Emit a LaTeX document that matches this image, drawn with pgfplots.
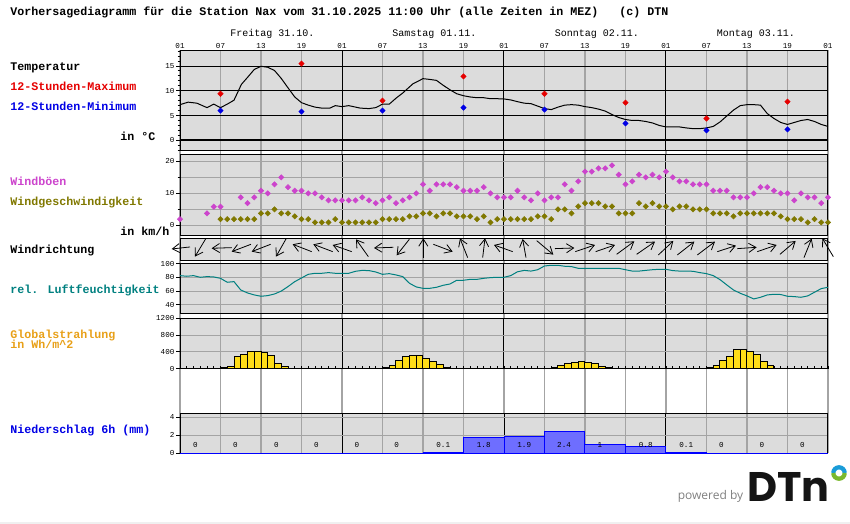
\documentclass[border=0pt]{standalone}
\usepackage{fontspec}
\usepackage{pgfplots}
\pgfplotsset{compat=1.18}
\usetikzlibrary{arrows.meta}
\setmainfont{Liberation Sans}
\newfontfamily\mono{Liberation Mono}
\newfontfamily\logo{Poppins}
\newfontfamily\pow{Open Sans}
\newcommand\lab[4]{\node[anchor=base west,inner sep=0pt,text=#4] at ({#1*0.75pt},{(524-#2)*0.75pt}) {\fontsize{8.75pt}{10pt}\selectfont\mono\bfseries #3};}
\newcommand\daylab[2]{\node[anchor=base west,inner sep=0pt] at ({#1*0.75pt},{(524-37)*0.75pt}) {\fontsize{7.5pt}{9pt}\selectfont\mono #2};}
\newcommand\rainlab[2]{\node[inner sep=0pt,font=\fontsize{5.7pt}{6pt}\selectfont\mono] at (axis cs:#1,.92) {#2};}
\definecolor{panel}{HTML}{DCDCDC}
\definecolor{gl}{HTML}{A4A4A4}
\definecolor{gust}{HTML}{CC44CC}
\definecolor{wind}{HTML}{807800}
\definecolor{hum}{HTML}{008080}
\definecolor{glob}{HTML}{E8A018}
\definecolor{sun}{HTML}{FFDD18}
\definecolor{rainf}{HTML}{6E6EFF}
\definecolor{ringb}{HTML}{1A9CD8}
\definecolor{ringg}{HTML}{7AB82E}
\pgfplotsset{
 tfont/.style={font=\fontsize{5.7pt}{6pt}\selectfont\mono},
 pan/.style={anchor=south west,scale only axis,width=486pt,xmin=0,xmax=96,
  axis background/.style={fill=panel},
  axis line style={line width=.75pt},
  xtick={6,12,18,30,36,42,54,60,66,78,84,90},minor xtick={24,48,72},
  xticklabels={},xmajorgrids,xminorgrids,
  major x grid style={draw=gl,line width=.8pt},
  minor x grid style={draw=black,line width=.75pt},
  major y grid style={draw=gl,line width=.8pt},
  xtick style={draw=none},
  ytick pos=left,tick align=outside,
  ytick style={draw=black,line width=.75pt},
  major tick length=3pt,minor tick length=1.8pt,
  tick label style={tfont},
  /pgf/number format/assume math mode=true,
  /pgf/number format/1000 sep={},
  yticklabel style={inner sep=1pt},
 },
 mk/.style={only marks,mark=square*,mark size=1.4pt,mark options={rotate=45,draw=#1,fill=#1},color=#1},
 ln/.style={line width=.75pt,no marks,color=#1},
}
\begin{document}
\begin{tikzpicture}
\useasboundingbox (0,0) rectangle (637.5pt,393pt);
\fill[color=black!6] (0,0) rectangle (637.5pt,1.5pt);

% vertical lines through all panels and gaps, with the hour labels
\begin{axis}[anchor=south west,at={(135pt,53.025pt)},scale only axis,width=486pt,height=302.25pt,
 xmin=0,xmax=96,ymin=0,ymax=1,ytick=\empty,axis line style={draw=none},
 xtick={0,6,...,96},xticklabels={01,07,13,19,01,07,13,19,01,07,13,19,01,07,13,19,01},
 minor xtick={0,24,48,72,96},
 xticklabel pos=upper,xtick style={draw=none},xmajorgrids,xminorgrids,
 major x grid style={draw=gl,line width=.8pt},minor x grid style={draw=black,line width=.75pt},
 tick label style={tfont},xticklabel style={inner sep=0pt,yshift=1pt},major tick length=2pt,minor tick length=0pt]
\end{axis}

% temperature
\begin{axis}[pan,at={(135pt,280.275pt)},height=75pt,ymin=-2.02,ymax=18.18,
 ytick={0,5,10,15},minor ytick={-2,-1,1,2,3,4,6,7,8,9,11,12,13,14,16,17,18},ymajorgrids,
 major y grid style={draw=black,line width=.75pt},clip=false]
\addplot[line width=1.6pt,black,no marks,forget plot] coordinates {(0,0)(96,0)};
\addplot[ln=black] coordinates {
(0,7.2)(1.2,7.7)(2.5,7.5)(4,6.6)(5,7.3)(6,6.6)(7,7.3)(8,8.1)(9.1,11.3)(10,12.7)(11,14.3)(12,14.95)(13,14.75)(14,14.1)(15,12.5)(16,10.6)(17,8.75)(18,7.6)(19,7.1)(20,6.7)(21,6.5)(22.2,6.5)(23,7.0)(24,6.8)(25,7.0)(26.7,6.5)(28,6.4)(29,6.6)(30,7.3)(31,7.3)(32,8.5)(33,9.55)(34.5,11.4)(36,12.45)
(37,12.3)(38,12.1)(39,11.1)(40,10.2)(41,9.4)(42,9.0)(43,8.75)(44,8.6)(45,8.6)(46,8.4)(47,8.4)(48,8.35)(49,8.15)(50,7.8)(51,7.5)(52,7.4)(53,6.9)(54,6.4)(55,6.2)(56,6.7)(57,7.1)(58,7.2)(59,7.1)(60,6.8)(61,6.6)(62,6.3)(63,5.9)(64,5.2)(65,4.6)(66,4.2)(67,4.0)(68,4.0)(69,3.8)(70,3.5)(71,3.0)(72,2.7)(73,2.7)(74,2.7)(75,2.5)(76,2.35)(77,2.35)(78,2.5)(79,2.8)(80,3.7)(81,4.9)(82,6.1)(83,7.0)(84,7.2)(85,7.2)(86,7.1)(87,5.4)(88,4.4)(89,3.6)(90,3.2)(91,3.6)(92,4.0)(93,4.2)(94,3.8)(95,3.2)(96,2.8)};
\addplot[mk=red!90!black] coordinates {(6,9.4)(18,15.5)(30,8.0)(42,12.9)(54,9.4)(66,7.6)(78,4.4)(90,7.8)};
\addplot[mk=blue!90!black] coordinates {(6,6.0)(18,5.8)(30,6.0)(42,6.6)(54,6.2)(66,3.4)(78,2.0)(90,2.2)};
\end{axis}

% wind
\begin{axis}[pan,at={(135pt,216.525pt)},height=60.225pt,ymin=-3.125,ymax=21.97,
 ytick={0,10,20},minor ytick={5,15},ymajorgrids,yminorgrids,minor y grid style={draw=gl,line width=.8pt},clip=false]
\addplot[mk=gust] coordinates {
(0,1.9)(4,3.75)(5,5.8)(6,5.8)(9,8.75)(10,6.9)(11,8.75)(12,10.8)(13,10)(14,12.8)(15,15)(16,11.9)(17,10.8)(18,10.8)(19,10)(20,10)(21,8.75)(22,7.8)(23,7.8)(24,7.8)(25,7.8)(26,7.8)(27,8.75)(28,7.8)(29,6.9)(30,7.8)(31,8.75)(32,6.9)(33,7.8)(34,8.75)(35,10)(36,12.8)(37,10.8)(38,12.8)(39,12.8)(40,12.8)(41,11.9)(42,10.8)(43,10.8)(44,10.8)(45,11.9)(46,10)(47,8.75)
(48,8.75)(49,8.75)(50,10.8)(51,8.75)(52,7.8)(53,10)(54,7.8)(55,8.75)(56,8.75)(57,12.8)(58,10.8)(59,13.75)(60,16.8)(61,16.8)(62,17.8)(63,17.8)(64,18.75)(65,15.8)(66,12.8)(67,13.75)(68,15.8)(69,15)(70,15.8)(71,15)(72,16.8)(73,15)(74,13.75)(75,13.75)(76,12.8)(77,12.8)(78,12.8)(79,10.8)(80,10.8)(81,10.8)(82,8.75)(83,8.75)(84,8.75)(85,10)(86,11.9)(87,11.9)(88,10.8)(89,10)(90,10)(91,7.8)(92,10)(93,8.75)(94,8.75)(95,6.9)(96,8.75)};
\addplot[mk=wind] coordinates {
(6,1.9)(7,1.9)(8,1.9)(9,1.9)(10,1.9)(11,1.9)(12,3.75)(13,3.75)(14,5)(15,3.75)(16,3.75)(17,2.8)(18,1.9)(19,1.9)(20,.9)(21,.9)(22,.9)(23,1.9)(24,.9)(25,.9)(26,.9)(27,.9)(28,.9)(29,.9)(30,1.9)(31,1.9)(32,1.9)(33,1.9)(34,2.8)(35,2.8)(36,3.75)(37,3.75)(38,2.8)(39,3.75)(40,3.75)(41,2.8)(42,2.8)(43,2.8)(44,1.9)(45,2.8)(46,.9)(47,1.9)
(48,1.9)(49,1.9)(50,1.9)(51,1.9)(52,1.9)(53,2.8)(54,2.8)(55,1.9)(56,5)(57,5)(58,3.75)(59,5.9)(60,6.9)(61,6.9)(62,6.9)(63,5.9)(64,5.9)(65,3.75)(66,3.75)(67,3.75)(68,6.9)(69,5.9)(70,6.9)(71,5.9)(72,5.9)(73,5)(74,5.9)(75,5.9)(76,5)(77,5)(78,5)(79,3.75)(80,3.75)(81,3.75)(82,2.8)(83,3.75)(84,3.75)(85,3.75)(86,3.75)(87,3.75)(88,3.75)(89,2.8)(90,1.9)(91,1.9)(92,1.9)(93,.9)(94,1.9)(95,.9)(96,.9)};
\end{axis}

% wind direction: tail and tip of each arrow, read off the picture (x: 30 + 20.25 per hour; y: 3 units per pixel)
\begin{axis}[pan,at={(135pt,197.775pt)},height=16.5pt,y dir=reverse,ymin=265,ymax=331,ytick=\empty,clip=false]
\addplot[black,no marks,line width=.6pt,
 quiver={u=(\thisrow{x1}-\thisrow{x0})/20.25,v=\thisrow{y1}-\thisrow{y0},
 every arrow/.append style={-{Straight Barb[length=5.4pt,width=6.8pt,line width=.6pt]}}}]
 table[x expr=(\thisrow{x0}-30)/20.25,y=y0] {
x0 y0 x1 y1
60 291 5 297
108 265 75 320
185 293 125 295
243 283 185 305
302 283 245 305
348 267 318 320
425 305 368 283
488 305 430 283
545 305 488 285
595 320 558 268
670 292 612 294
718 268 680 316
760 323 760 265
790 283 848 305
893 323 870 265
938 323 945 265
1028 305 972 285
1068 323 1058 267
1100 272 1150 314
1155 296 1213 294
1216 305 1275 285
1277 305 1335 285
1340 313 1393 274
1400 313 1455 275
1465 315 1510 273
1522 315 1573 275
1582 315 1635 275
1642 305 1698 287
1702 296 1760 292
1762 305 1820 285
1830 313 1877 273
1902 323 1925 266
1990 320 1957 265
};
\end{axis}

% humidity
\begin{axis}[pan,at={(135pt,157.725pt)},height=37.8pt,ymin=27.2,ymax=100.3,ytick={40,60,80,100},ymajorgrids]
\addplot[ln=hum] coordinates {
(0,82.4)(1,81.5)(2,82.4)(3,80)(4,81)(5,80.5)(6,78.5)(7,72.8)(8,73.7)(9,61.6)(10,57.3)(11,54.4)(12,52.5)(13,53.4)(14,55.8)(15,60)(16,66.5)(17,73.7)(18,79)(19,84.3)(20,85.8)(21,85.8)(22,86.8)(23,85.8)(24,85.8)(25,85.8)(26,88.7)(27,90)(28,89.7)(29,87.7)(30,84.3)(31,85.3)(32,83.4)(33,81)(34,71.3)(35,66)(36,64)(37,64)(38,65.5)(39,68.4)(40,70.3)(41,75.7)(42,75.7)(43,77)(44,77)(45,78.5)(46,79.5)(47,80)
(48,80)(49,82.4)(50,88)(51,90)(52,89)(53,91)(54,96.4)(55,97.4)(56,97.4)(57,96)(58,95.5)(59,93)(60,93)(61,93)(62,93)(63,93)(64,93)(65,93)(66,91)(67,89)(68,89)(69,90)(70,91)(71,91.6)(72,91.6)(73,89.7)(74,89)(75,89)(76,88.7)(77,86.8)(78,85.3)(79,82.4)(80,76.6)(81,69)(82,61.6)(83,56.8)(84,53)(85,48.6)(86,51)(87,54.4)(88,55.4)(89,55)(90,52.5)(91,52)(92,51)(93,53)(94,58.3)(95,63.6)(96,65.5)};
\end{axis}

% global radiation
\begin{axis}[pan,at={(135pt,116.475pt)},height=37.8pt,ymin=0,ymax=1200,ytick={0,400,800,1200},ymajorgrids,
 extra x ticks={0,...,96},extra x tick style={grid=none,xticklabels={},xtick pos=bottom,tick align=inside,major tick length=1.8pt,xtick style={draw=black,line width=.7pt}}]
\addplot[ybar interval=1,draw=black,fill=sun,line width=.75pt] coordinates {(6,25)(7,55)(8,290)(9,337)(10,408)(11,408)(12,376)(13,314)(14,125)(15,55)(16,55)};
\addplot[ybar interval=1,draw=black,fill=sun,line width=.75pt] coordinates {(30,25)(31,78)(32,196)(33,290)(34,314)(35,314)(36,243)(37,172)(38,102)(39,25)(40,25)};
\addplot[ybar interval=1,draw=black,fill=sun,line width=.75pt] coordinates {(55,25)(56,78)(57,125)(58,149)(59,172)(60,149)(61,125)(62,55)(63,25)(64,25)};
\addplot[ybar interval=1,draw=black,fill=sun,line width=.75pt] coordinates {(78,25)(79,78)(80,196)(81,290)(82,455)(83,455)(84,400)(85,337)(86,172)(87,78)(88,78)};
\end{axis}

% precipitation
\begin{axis}[pan,at={(135pt,53.025pt)},height=30pt,ymin=0,ymax=4.444,ytick={0,2,4},ymajorgrids,clip=false]
\addplot[ybar interval=1,draw=blue,fill=rainf,line width=.75pt] coordinates {(0,0)(6,0)(12,0)(18,0)(24,0)(30,0)(36,0.1)(42,1.8)(48,1.9)(54,2.4)(60,1)(66,0.8)(72,0.1)(78,0)(84,0)(90,0)(96,0)};
\rainlab{2.3}{0}\rainlab{8.2}{0}\rainlab{14.3}{0}\rainlab{20.2}{0}
\rainlab{26.2}{0}\rainlab{32.1}{0}\rainlab{39}{0.1}\rainlab{45}{1.8}
\rainlab{51}{1.9}\rainlab{56.9}{2.4}\rainlab{62.2}{1}\rainlab{69}{0.8}
\rainlab{75}{0.1}\rainlab{80.2}{0}\rainlab{86.2}{0}\rainlab{92.2}{0}
\end{axis}

% texts
\lab{10}{16}{Vorhersagediagramm für die Station Nax vom 31.10.2025 11:00 Uhr (alle Zeiten in MEZ)~~~(c) DTN}{black}
\daylab{230}{Freitag 31.10.}
\daylab{392}{Samstag 01.11.}
\daylab{554.5}{Sonntag 02.11.}
\daylab{716.5}{Montag 03.11.}
\lab{10}{71}{Temperatur}{black}
\lab{10}{91}{12-Stunden-Maximum}{red!90!black}
\lab{10}{111}{12-Stunden-Minimum}{blue!90!black}
\lab{120}{141}{in °C}{black}
\lab{10}{186}{Windböen}{gust}
\lab{10}{206}{Windgeschwindigkeit}{wind}
\lab{120}{236}{in km/h}{black}
\lab{10}{254}{Windrichtung}{black}
\lab{10}{294}{rel. Luftfeuchtigkeit}{hum}
\lab{10}{339}{Globalstrahlung}{glob}
\lab{10}{349}{in Wh/m\textasciicircum 2}{glob}
\lab{10}{434}{Niederschlag 6h (mm)}{blue!90!black}

% logo
\node[anchor=base west,inner sep=0pt,text=black!50] at ({677.5*0.75pt},{(524-500)*0.75pt}) {\fontsize{9pt}{10pt}\selectfont\pow powered by};
\node[anchor=base west,inner sep=0pt,text=black!92] at ({747*0.75pt},{(524-502)*0.75pt}) {\fontsize{31pt}{32pt}\selectfont\logo\bfseries DTn};
\draw[line width=3.2pt,color=ringb] ({(839-5.7)*0.75pt},{(524-473)*0.75pt}) arc[start angle=180,end angle=0,radius=4.275pt];
\draw[line width=3.2pt,color=ringg] ({(839-5.7)*0.75pt},{(524-473)*0.75pt}) arc[start angle=180,end angle=360,radius=4.275pt];
\end{tikzpicture}
\end{document}
